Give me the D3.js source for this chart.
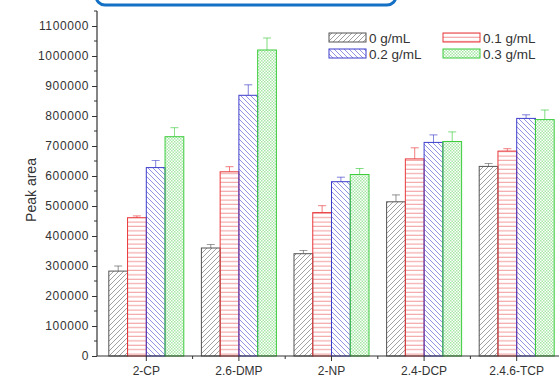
<!DOCTYPE html>
<html><head><meta charset="utf-8">
<script src="https://cdn.jsdelivr.net/npm/d3@7"></script>
<style>body{margin:0;background:#fff}svg{display:block;font-family:"Liberation Sans",Arial,sans-serif}</style>
</head><body>
<svg id="c" width="559" height="379"></svg>
<script>
const categories = ["2-CP","2.6-DMP","2-NP","2.4-DCP","2.4.6-TCP"];
const seriesNames = ["0 g/mL","0.1 g/mL","0.2 g/mL","0.3 g/mL"];
const s0 = [283000, 360000, 341000, 514000, 632000];
const s1 = [461000, 614000, 478000, 657000, 683000];
const s2 = [628000, 869000, 581000, 712000, 792000];
const s3 = [731000, 1020000, 605000, 715000, 788000];
const e0 = [17000, 12000, 11000, 23000, 10000];
const e1 = [6000, 17000, 23000, 37000, 8000];
const e2 = [24000, 35000, 15000, 25000, 12000];
const e3 = [30000, 40000, 20000, 32000, 32000];
const yTicks = [0,100000,200000,300000,400000,500000,600000,700000,800000,900000,1000000,1100000];

const values = [s0,s1,s2,s3], errs = [e0,e1,e2,e3];
const colors = ["#555555","#e8393b","#3c3ccc","#3ccc3c"];
const svg = d3.select("#c");
const defs = svg.append("defs");

function pat(id, color, draw){
  const p = defs.append("pattern").attr("id",id).attr("patternUnits","userSpaceOnUse")
    .attr("width",5).attr("height",5);
  draw(p, color);
}
pat("p0", colors[0], (p,c)=>{ p.append("path").attr("d","M-1,6 L6,-1 M-1,1 L1,-1 M4,6 L6,4").attr("stroke",c).attr("stroke-width",0.7).attr("opacity",0.8); });
pat("p1", colors[1], (p,c)=>{ p.attr("height",4.4); p.append("path").attr("d","M0,2 L5,2").attr("stroke",c).attr("stroke-width",0.7).attr("opacity",0.8); });
pat("p2", colors[2], (p,c)=>{ p.append("path").attr("d","M-1,-1 L6,6 M4,-1 L6,1 M-1,4 L1,6").attr("stroke",c).attr("stroke-width",0.7).attr("opacity",0.8); });
pat("p3", colors[3], (p,c)=>{ p.attr("width",3).attr("height",3);
  p.append("rect").attr("x",0).attr("y",0).attr("width",1.5).attr("height",1.5).attr("fill",c).attr("opacity",0.45);
  p.append("rect").attr("x",1.5).attr("y",1.5).attr("width",1.5).attr("height",1.5).attr("fill",c).attr("opacity",0.45); });

const x = d3.scaleBand().domain(categories).range([100, 563]).padding(0);
const sub = d3.scaleBand().domain(d3.range(4)).range([-37.5, 37.5]).padding(0);
const y = d3.scaleLinear().domain([0,1150000]).range([356, 11]);

svg.append("rect").attr("x",96).attr("y",-20).attr("width",300).attr("height",25).attr("rx",9)
  .attr("fill","none").attr("stroke","#1470c4").attr("stroke-width",3);

for(let s=0;s<4;s++){
  const g = svg.append("g");
  categories.forEach((c,i)=>{
    const cx = x(c)+x.bandwidth()/2;
    const x0 = cx + sub(s), w = sub.bandwidth();
    const v = values[s][i], e = errs[s][i];
    g.append("rect").attr("x",x0).attr("y",y(v)).attr("width",w).attr("height",y(0)-y(v))
      .attr("fill","url(#p"+s+")").attr("stroke",colors[s]).attr("stroke-width",1);
    const mx = x0 + w/2;
    g.append("line").attr("x1",mx).attr("x2",mx).attr("y1",y(v)).attr("y2",y(v+e)).attr("stroke",colors[s]).attr("stroke-width",0.8).attr("opacity",0.8);
    g.append("line").attr("x1",mx-4).attr("x2",mx+4).attr("y1",y(v+e)).attr("y2",y(v+e)).attr("stroke",colors[s]).attr("stroke-width",0.8).attr("opacity",0.8);
  });
}

const yAxis = d3.axisLeft(y).tickValues(yTicks).tickSize(5).tickPadding(3).tickFormat(d3.format("d"));
const ya = svg.append("g").attr("transform","translate(97,0)").call(yAxis);
ya.select(".domain").attr("d","M0,11V356").attr("stroke","#333").attr("stroke-width",1.2);
ya.selectAll(".tick line").attr("stroke","#333").attr("stroke-width",1);
ya.selectAll(".tick text").attr("fill","#333").style("font-size","12px").style("letter-spacing","0.6px");
const minorY = d3.range(50000, 1150001, 100000);
ya.selectAll(".minor").data(minorY).enter().append("line")
  .attr("x1",-3).attr("x2",0).attr("y1",d=>y(d)).attr("y2",d=>y(d)).attr("stroke","#333");

const xAxis = d3.axisBottom(x).tickSize(5).tickPadding(5);
const xa = svg.append("g").attr("transform","translate(0,356)").call(xAxis);
xa.select(".domain").attr("d","M97,0H559").attr("stroke","#333").attr("stroke-width",1.2);
xa.selectAll(".tick line").attr("stroke","#333");
xa.selectAll(".tick text").attr("fill","#333").style("font-size","12px");
xa.selectAll(".minor").data(categories.slice(1)).enter().append("line")
  .attr("x1",d=>x(d)).attr("x2",d=>x(d)).attr("y1",0).attr("y2",3).attr("stroke","#333");

svg.append("text").attr("transform","translate(36,190) rotate(-90)").attr("text-anchor","middle")
  .attr("fill","#333").style("font-size","14px").text("Peak area");

const leg = [[329,33],[443,33],[329,49],[443,49]];
seriesNames.forEach((n,s)=>{
  const [lx,ly] = leg[s];
  svg.append("rect").attr("x",lx).attr("y",ly).attr("width",37).attr("height",9)
    .attr("fill","url(#p"+s+")").attr("stroke",colors[s]).attr("stroke-width",1);
  svg.append("text").attr("x",lx+40).attr("y",ly+9.5).attr("fill","#333").style("font-size","13.5px").text(n);
});
</script>
</body></html>
